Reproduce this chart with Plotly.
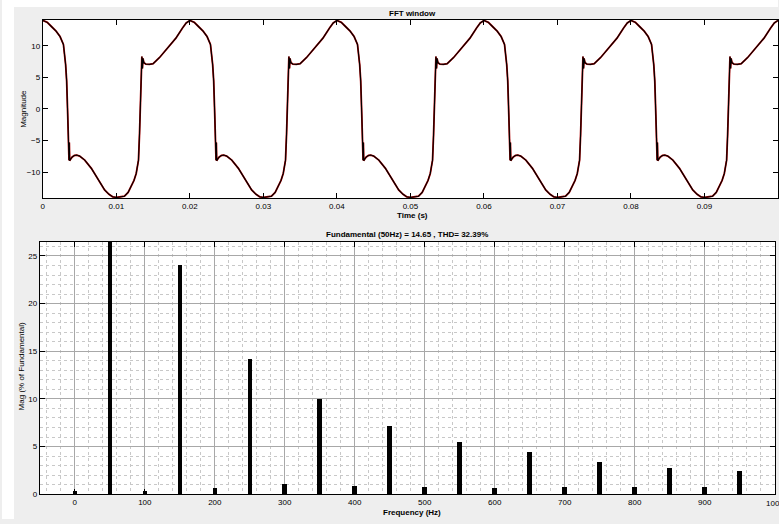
import plotly.graph_objects as go

# ---------------- data ----------------
# one period (50 Hz, 20 ms) of the measured waveform, read from the picture
cycle_t_ms = [0.0, 0.6, 1.2, 1.8, 2.34, 2.8, 3.1, 3.24, 3.38, 3.47, 3.56, 3.60, 3.65,
              3.8, 4.0, 4.3, 4.6, 5.0, 5.7, 6.6, 7.5, 8.4, 9.0, 9.5,
              10.0, 10.5, 11.1, 11.6, 12.0, 12.4, 12.7, 12.9, 13.01, 13.15, 13.28,
              13.38, 13.47, 13.55, 13.62, 13.75, 14.0, 14.5, 15.0, 15.85, 17.0,
              18.1, 19.0, 19.5]
cycle_v = [14.0, 13.7, 13.0, 12.3, 11.45, 10.2, 7.0, 4.4, -0.8, -6.0, -8.1, -5.3, -8.2,
           -7.9, -7.6, -7.35, -7.3, -7.45, -8.1, -9.4, -11.2, -12.8, -13.5, -13.9,
           -14.0, -13.95, -13.8, -13.2, -12.2, -11.3, -10.2, -9.0, -8.1, -4.0, 2.0,
           6.0, 8.3, 6.4, 8.0, 7.3, 7.1, 7.05, 7.15, 8.1, 9.6,
           11.2, 12.8, 13.6]
n_cycles = 5
end_t_ms = 100.0
end_v = 14.0

time_ticks = [0, 0.01, 0.02, 0.03, 0.04, 0.05, 0.06, 0.07, 0.08, 0.09]
time_labels = ["0", "0.01", "0.02", "0.03", "0.04", "0.05", "0.06", "0.07", "0.08", "0.09"]
mag_ticks = [-10, -5, 0, 5, 10]

freqs = [0, 50, 100, 150, 200, 250, 300, 350, 400, 450,
         500, 550, 600, 650, 700, 750, 800, 850, 900, 950]
harm_mag = [0.4, 100.0, 0.4, 24.1, 0.65, 14.2, 1.1, 10.0, 0.85, 7.2,
            0.8, 5.5, 0.65, 4.5, 0.75, 3.4, 0.75, 2.8, 0.75, 2.45]
freq_ticks = [0, 100, 200, 300, 400, 500, 600, 700, 800, 900, 1000]
last_freq_label = "1000"
pct_ticks = [0, 5, 10, 15, 20, 25]

title_top = "FFT window"
title_bottom = "Fundamental (50Hz) = 14.65 , THD= 32.39%"

# ---------------- build waveform from the read period ----------------
t = []
v = []
for k in range(n_cycles):
    for tm, val in zip(cycle_t_ms, cycle_v):
        t.append((tm + 20.0 * k) / 1000.0)
        v.append(val)
t.append(end_t_ms / 1000.0)
v.append(end_v)

W, H = 779, 524
FONT = "Liberation Sans, Arial, sans-serif"

def px(x):
    return x / W

def py(y):
    return 1 - y / H

fig = go.Figure()
fig.add_trace(go.Scatter(x=t, y=v, mode="lines", line=dict(color="#b00000", width=1.8),
                         xaxis="x", yaxis="y", hoverinfo="skip", showlegend=False))
fig.add_trace(go.Scatter(x=t, y=v, mode="lines", line=dict(color="black", width=1.1),
                         xaxis="x", yaxis="y", hoverinfo="skip", showlegend=False))
fig.add_trace(go.Bar(x=freqs, y=harm_mag, width=7, marker=dict(color="black", line=dict(width=0)),
                     xaxis="x2", yaxis="y2", showlegend=False))

axis_common = dict(ticks="inside", ticklen=5, tickcolor="black", tickwidth=1,
                   showline=True, linecolor="black", linewidth=1, mirror="allticks",
                   zeroline=False,
                   tickfont=dict(family=FONT, size=8, color="black"))

fig.update_layout(
    width=W, height=H,
    margin=dict(l=0, r=0, t=0, b=0),
    paper_bgcolor="#eeeeee",
    plot_bgcolor="white",
    bargap=0,
    xaxis=dict(domain=[px(41), 1.0], range=[0, 0.1], anchor="y",
               tickvals=time_ticks, ticktext=time_labels, showgrid=False, **axis_common),
    yaxis=dict(domain=[py(200), py(20)], range=[-14.1, 14.1], anchor="x",
               tickvals=mag_ticks, showgrid=False, **axis_common),
    xaxis2=dict(domain=[px(38), px(776)], range=[-50, 1000.5], anchor="y2",
                tickvals=freq_ticks, showgrid=True, gridcolor="#a8a8a8", gridwidth=1,
                minor=dict(dtick=20, tick0=0, showgrid=True, gridcolor="#c8c8c8",
                           griddash="dot", gridwidth=1, ticks=""),
                **axis_common),
    yaxis2=dict(domain=[py(499), py(244)], range=[0, 26.5], anchor="x2",
                tickvals=pct_ticks, showgrid=True, gridcolor="#a8a8a8", gridwidth=1,
                minor=dict(dtick=1, tick0=0, showgrid=True, gridcolor="#c8c8c8",
                           griddash="dot", gridwidth=1, ticks=""),
                **axis_common),
    shapes=[
        dict(type="rect", xref="paper", yref="paper", x0=0, x1=1, y0=py(7), y1=1,
             fillcolor="white", line=dict(width=0), layer="below"),
        dict(type="rect", xref="paper", yref="paper", x0=0, x1=px(12), y0=0, y1=1,
             fillcolor="white", line=dict(width=0), layer="below"),
    ],
)

def ann(text, x, y, size=8, angle=0, bold=True, xanchor="center"):
    fig.add_annotation(text=("<b>%s</b>" % text) if bold else text,
                       x=px(x), y=py(y), xref="paper", yref="paper",
                       showarrow=False, textangle=angle, xanchor=xanchor, yanchor="middle",
                       font=dict(family=FONT, size=size, color="black"))

ann(title_top, 412, 14)
ann("Time (s)", 412, 218)
ann(title_bottom, 407, 237)
ann("Frequency (Hz)", 412, 517)
ann("Magnitude", 22, 110, angle=-90, bold=False)
ann("Mag (% of Fundamental)", 20, 370, angle=-90, bold=False)
# the last frequency tick label, cut off by the right edge as in the original
fig.add_annotation(text=last_freq_label, x=freq_ticks[-1], y=py(508), xref="x2", yref="paper",
                   showarrow=False, xanchor="center", yanchor="middle",
                   font=dict(family=FONT, size=8, color="black"))

fig.write_html("out.html")
